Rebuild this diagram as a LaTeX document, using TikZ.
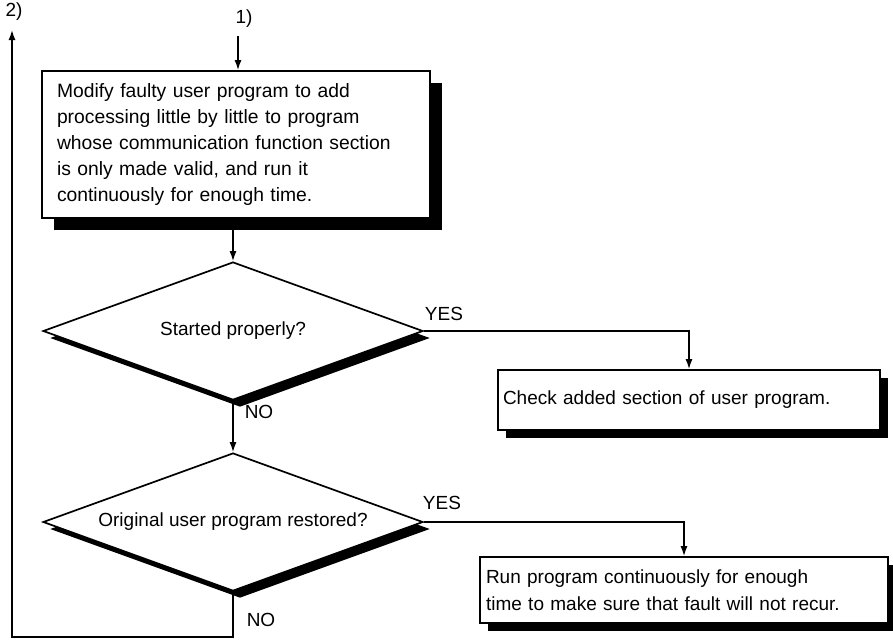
\documentclass[tikz,border=0pt]{standalone}
\usepackage{fontspec}
\setmainfont{Liberation Sans}
\usetikzlibrary{positioning, arrows.meta, shapes.geometric, shadows}

\begin{document}
\begin{tikzpicture}[x=1pt, y=-1pt, font=\fontsize{19}{27}\selectfont,
    freccia/.style={-{Latex[length=10pt,width=7pt]}, line width=1.5pt},
    blocco/.style={draw, line width=1.7pt, fill=white, align=left, inner ysep=0pt,
        drop shadow={shadow xshift=#1, shadow yshift=-#1, fill=black, opacity=1}},
    scelta/.style={draw, diamond, aspect=2.75, line width=1.7pt, fill=white, inner sep=0pt,
        minimum width=380pt, minimum height=138pt,
        drop shadow={shadow xshift=7pt, shadow yshift=-7pt, fill=black, opacity=1}}]

    \useasboundingbox (0,0) rectangle (893,640);

    % blocchi
    \node[blocco=12pt, text width=358pt, inner xsep=15pt, minimum height=147pt,
        font=\fontsize{19.3}{26}\selectfont] (modifica) at (236,144.5)
        {Modify faulty user program to add\\ processing little by little to program\\
         whose communication function section\\ is only made valid, and run it\\
         continuously for enough time.};
    \node[scelta] (q1) at (233,331) {Started properly?};
    \node[blocco=8pt, text width=372pt, inner xsep=5pt, minimum height=60pt] (verifica) at (689,400)
        {Check added section of user program.};
    \node[scelta] (q2) at (233,522) {Original user program restored?};
    \node[blocco=8pt, text width=396pt, inner xsep=6pt, minimum height=66pt] (esegui) at (684,590)
        {Run program continuously for enough\\ time to make sure that fault will not recur.};

    % ingresso 1)
    \node (uno) at (244,19) {1)};
    \coordinate (inizio) at (238,36);
    \draw[freccia] (inizio) -- (inizio |- modifica.north);

    % collegamenti
    \draw[freccia] (modifica.south -| q1.north) -- (q1.north);
    \draw[freccia] (q1.east) -| (verifica.north);
    \node (si1) at (444,314) {YES};
    \draw[freccia] (q1.south) -- (q2.north);
    \node (no1) at (259,412) {NO};
    \draw[freccia] (q2.east) -| (esegui.north);
    \node (si2) at (442,503) {YES};
    \node (no2) at (261,620) {NO};

    % ritorno 2)
    \coordinate (fondo) at (12,637);
    \coordinate (ritorno) at (12,30);
    \draw[freccia] (q2.south) |- (fondo) -- (ritorno);
    \node (due) at (14,12) {2)};

\end{tikzpicture}
\end{document}
